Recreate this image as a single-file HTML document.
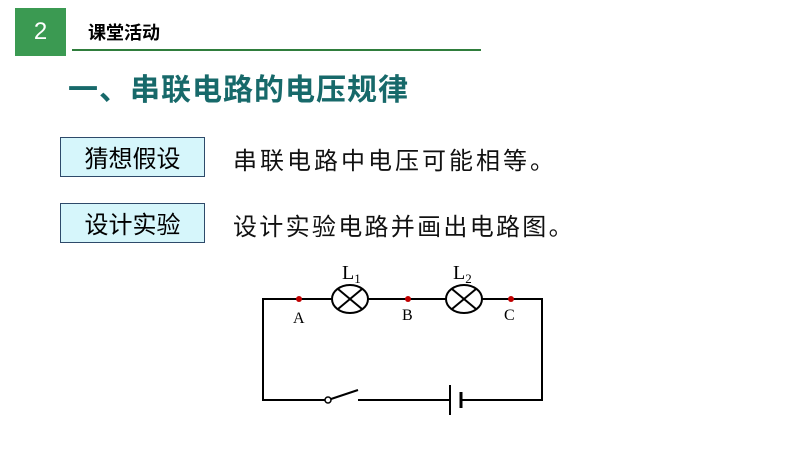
<!DOCTYPE html>
<html><head><meta charset="utf-8"><style>
body{margin:0;width:800px;height:450px;background:#fff;position:relative;overflow:hidden;font-family:"Liberation Sans","Noto Sans CJK SC",sans-serif}
.a{position:absolute;white-space:nowrap}
.box{position:absolute;left:60px;width:145px;height:40px;background:#d6f6fb;border:1px solid #2e4a6a;box-sizing:border-box;font-size:24px;line-height:24px;padding-top:10px;text-align:center;color:#000}
</style></head><body>
<div class="a" style="left:15px;top:8px;width:51px;height:48px;background:#3b9a52;color:#fff;font-size:24px;line-height:48px;text-align:center">2</div>
<div class="a" style="left:88px;top:19px;font-size:18px;font-weight:bold;color:#000">课堂活动</div>
<div class="a" style="left:72px;top:49px;width:409px;height:2px;background:#2f7d3c"></div>
<div class="a" style="left:68px;top:65px;font-size:30px;font-weight:bold;color:#17696a;letter-spacing:1px">一、串联电路的电压规律</div>
<div class="box" style="top:137px">猜想假设</div>
<div class="box" style="top:203px">设计实验</div>
<div class="a" style="left:233px;top:141px;font-size:24px;letter-spacing:3px;color:#111">串联电路中电压可能相等。</div>
<div class="a" style="left:233px;top:207px;font-size:24px;letter-spacing:2.3px;color:#111">设计实验电路并画出电路图。</div>
<svg class="a" style="left:0;top:0" width="800" height="450">
<g stroke="#000" stroke-width="2" fill="none">
<polyline points="332,299 263,299 263,400 328,400"/>
<line x1="368" y1="299" x2="446" y2="299"/>
<polyline points="482,299 542,299 542,400 461,400"/>
<line x1="358" y1="400" x2="450" y2="400"/>
<line x1="331" y1="399" x2="358" y2="390"/>
<ellipse cx="350" cy="299" rx="18" ry="14"/>
<ellipse cx="464" cy="299" rx="18" ry="14"/>
<line x1="338" y1="289" x2="362" y2="309"/><line x1="338" y1="309" x2="362" y2="289"/>
<line x1="452" y1="289" x2="476" y2="309"/><line x1="452" y1="309" x2="476" y2="289"/>
<line x1="450" y1="385" x2="450" y2="415"/>
<line x1="461" y1="392" x2="461" y2="408" stroke-width="3"/>
</g>
<circle cx="328" cy="400" r="3" fill="#fff" stroke="#000" stroke-width="1.5"/>
<g fill="#c00000"><circle cx="299" cy="299" r="3"/><circle cx="408" cy="299" r="3"/><circle cx="511" cy="299" r="3"/></g>
<g font-family="Liberation Serif,serif" font-size="16" fill="#000">
<text x="293" y="323">A</text><text x="402" y="320">B</text><text x="504" y="320">C</text>
<text x="342" y="279" font-size="20">L<tspan font-size="13" dy="4">1</tspan></text>
<text x="453" y="279" font-size="20">L<tspan font-size="13" dy="4">2</tspan></text>
</g>
</svg>
</body></html>
